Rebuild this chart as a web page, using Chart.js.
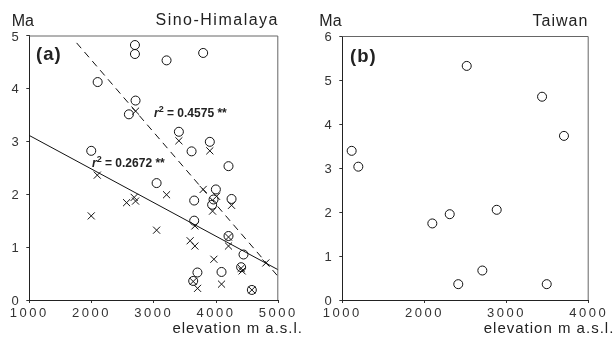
<!DOCTYPE html>
<html>
<head>
<meta charset="utf-8">
<script src="https://cdn.jsdelivr.net/npm/chart.js@4"></script>
<style>
  body { margin: 0; width: 616px; height: 341px; background: #fff; position: relative; overflow: hidden;
         font-family: "Liberation Sans", Arial, sans-serif; color: #222; }
  .box { position: absolute; top: 0; width: 308px; height: 341px; }
  .txt { position: absolute; line-height: 1; white-space: nowrap; }
  .r2 { font-weight: bold; font-size: 12px; }
  .r2 sup { font-size: 9px; line-height: 0; vertical-align: 5px; }
</style>
</head>
<body>
<div class="box" style="left:0"><canvas id="chart-a"></canvas></div>
<div class="box" style="left:308px"><canvas id="chart-b"></canvas></div>

<div class="txt" style="left:11.7px; top:13.2px; font-size:16px">Ma</div>
<div class="txt" style="right:337px; top:12.2px; font-size:16px; letter-spacing:1.5px">Sino-Himalaya</div>
<div class="txt" style="left:36px; top:45px; font-size:18.5px; font-weight:bold; letter-spacing:1px">(a)</div>
<div class="txt r2" style="left:154px; top:106.5px"><i>r</i><sup>2</sup> = 0.4575 **</div>
<div class="txt r2" style="left:92px; top:156.5px"><i>r</i><sup>2</sup> = 0.2672 **</div>
<div class="txt" style="right:313px; top:320px; font-size:15px; letter-spacing:1px">elevation m a.s.l.</div>

<div class="txt" style="left:319.3px; top:13.2px; font-size:16px">Ma</div>
<div class="txt" style="right:27.7px; top:12.5px; font-size:16px; letter-spacing:1px">Taiwan</div>
<div class="txt" style="left:350px; top:46.5px; font-size:18.5px; font-weight:bold; letter-spacing:1px">(b)</div>
<div class="txt" style="right:1.7px; top:320px; font-size:15px; letter-spacing:1px">elevation m a.s.l.</div>

<script>
// ---- Sino-Himalaya (a) ----
const sinoCircleElev = [2697, 2697, 3205, 3793, 2098, 2707, 2600, 3403, 3900, 1995, 3607, 4200, 3045,
                        3649, 3997, 3960, 3937, 4249, 3649, 4200, 4441, 3701, 4088, 3633, 4403, 4575];
const sinoCircleMa   = [4.82, 4.65, 4.53, 4.67, 4.12, 3.77, 3.51, 3.18, 2.99, 2.82, 2.81, 2.53, 2.21,
                        1.88, 2.09, 1.90, 1.80, 1.91, 1.50, 1.21, 0.86, 0.52, 0.53, 0.36, 0.62, 0.19];
const sinoCrossElev  = [2707, 3403, 3900, 2092, 3793, 3205, 2685, 2563, 2707, 1995, 4008, 3944, 4249, 3045,
                        3660, 3584, 3660, 4200, 4200, 3965, 4419, 4403, 4088, 3633, 3703, 4575, 4800];
const sinoCrossMa    = [3.57, 3.01, 2.82, 2.36, 2.09, 1.99, 1.94, 1.84, 1.87, 1.59, 1.96, 1.68, 1.79, 1.32,
                        1.40, 1.12, 1.02, 1.19, 1.02, 0.77, 0.55, 0.60, 0.30, 0.35, 0.22, 0.19, 0.70];
const solidFitElev  = [1000, 5000];
const solidFitMa    = [3.11, 0.57];
const dashedFitElev = [1760, 5000];
const dashedFitMa   = [4.86, 0.44];
const sinoXTicks = [1000, 2000, 3000, 4000, 5000];
const sinoYTicks = [0, 1, 2, 3, 4, 5];

// ---- Taiwan (b) ----
const taiwanElev = [1114, 1195, 2515, 3432, 3699, 2096, 2308, 2880, 2412, 2705, 3489];
const taiwanMa   = [3.39, 3.03, 5.32, 4.62, 3.73, 1.74, 1.95, 2.05, 0.36, 0.67, 0.36];
const taiwanXTicks = [1000, 2000, 3000, 4000];
const taiwanYTicks = [0, 1, 2, 3, 4, 5, 6];

const FONT = "'Liberation Sans', Arial, sans-serif";
const ink = '#111';

const zip = (xs, ys) => xs.map((x, i) => ({ x: x, y: ys[i] }));

// top + right edges of the frame, and wide tick digits
const framePlugin = {
    id: 'frame',
    beforeDraw(chart) { chart.ctx.letterSpacing = '2.5px'; },
    afterDraw(chart) {
        const { ctx, chartArea: a } = chart;
        ctx.save();
        ctx.strokeStyle = '#666';
        ctx.lineWidth = 1;
        ctx.beginPath();
        ctx.moveTo(a.left, a.top + 0.5);
        ctx.lineTo(a.right - 0.5, a.top + 0.5);
        ctx.lineTo(a.right - 0.5, a.bottom);
        ctx.stroke();
        ctx.restore();
    }
};

function axis(ticks, extra) {
    return Object.assign({
        type: 'linear',
        min: ticks[0],
        max: ticks[ticks.length - 1],
        afterBuildTicks: s => { s.ticks = ticks.map(v => ({ value: v })); },
        grid: { drawOnChartArea: false, tickLength: 3, color: '#333' },
        border: { color: '#222', width: 1 },
    }, extra);
}

function makeOptions(xTicks, yTicks, pad, yWidth) {
    const tickFont = { size: 13, family: FONT };
    return {
        responsive: true,
        maintainAspectRatio: false,
        animation: false,
        layout: { padding: pad },
        plugins: { legend: { display: false }, tooltip: { enabled: false } },
        scales: {
            x: axis(xTicks, {
                ticks: { color: '#333', font: tickFont, padding: 3, maxRotation: 0, autoSkip: false,
                         callback: v => String(v) },
                afterFit: s => { s.height = 20; }
            }),
            y: axis(yTicks, {
                ticks: { color: '#333', font: tickFont, padding: 5, labelOffset: 1.5, autoSkip: false,
                         callback: v => String(v) },
                afterFit: s => { s.width = yWidth; }
            })
        }
    };
}

const circleStyle = { pointStyle: 'circle', pointRadius: 4.5, backgroundColor: 'rgba(0,0,0,0)', borderColor: ink, borderWidth: 1 };
const crossStyle  = { pointStyle: 'crossRot', pointRadius: 5, borderColor: ink, borderWidth: 1 };

new Chart(document.getElementById('chart-a'), {
    type: 'scatter',
    data: {
        datasets: [
            Object.assign({ data: zip(sinoCircleElev, sinoCircleMa) }, circleStyle),
            Object.assign({ data: zip(sinoCrossElev, sinoCrossMa) }, crossStyle),
            { data: zip(solidFitElev, solidFitMa), showLine: true, borderColor: ink, borderWidth: 1, pointRadius: 0 },
            { data: zip(dashedFitElev, dashedFitMa), showLine: true, borderColor: ink, borderWidth: 1, borderDash: [7, 5], pointRadius: 0 }
        ]
    },
    options: makeOptions(sinoXTicks, sinoYTicks, { left: 0, top: 35.5, right: 29.7, bottom: 21 }, 29.3),
    plugins: [framePlugin]
});

new Chart(document.getElementById('chart-b'), {
    type: 'scatter',
    data: {
        datasets: [
            Object.assign({ data: zip(taiwanElev, taiwanMa) }, circleStyle)
        ]
    },
    options: makeOptions(taiwanXTicks, taiwanYTicks, { left: 0, top: 36, right: 27.3, bottom: 21 }, 34.3),
    plugins: [framePlugin]
});
</script>
</body>
</html>
